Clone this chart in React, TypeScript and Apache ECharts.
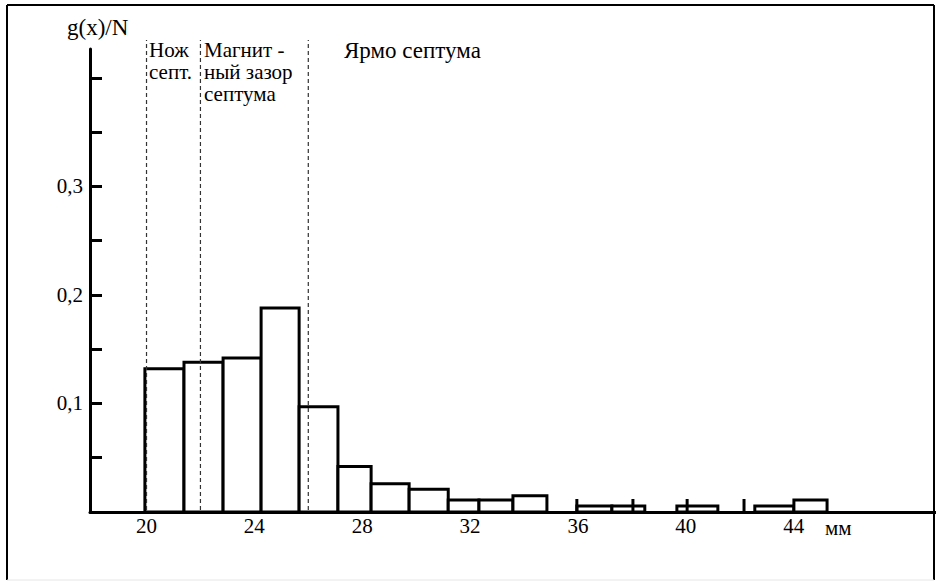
import React, { useEffect, useRef } from "react";
import * as echarts from "echarts";

// Histogram bins (mm) and relative frequencies g(x)/N
const binStart = [19.94, 21.39, 22.84, 24.25, 25.66, 27.1, 28.33, 29.74, 31.19, 32.33, 33.59, 35.96, 37.26, 39.67, 42.56, 44.01];
const binEnd = [21.39, 22.84, 24.25, 25.66, 27.1, 28.33, 29.74, 31.19, 32.33, 33.59, 34.85, 37.26, 38.48, 41.19, 44.01, 45.24];
const binValue = [0.132, 0.138, 0.142, 0.188, 0.097, 0.042, 0.026, 0.021, 0.011, 0.011, 0.015, 0.0055, 0.0055, 0.0055, 0.0055, 0.011];

// Zone boundaries (dashed lines), mm
const zoneBounds = [20, 22, 26];
const zoneTop = 0.435;

// Small vertical marks on the baseline, mm
const baseMarks = [35.96, 38.04, 40.05, 42.16];
const baseMarkHeight = 0.012;

// Axis ticks/labels
const xLabelValues = [20, 24, 28, 32, 36, 40, 44];
const yTickValues = [0.05, 0.1, 0.15, 0.2, 0.25, 0.3, 0.35, 0.4];
const yLabelValues = [0.1, 0.2, 0.3];

const FONT = "'Liberation Serif', 'DejaVu Serif', serif";

export default function App() {
  const ref = useRef<HTMLDivElement>(null);

  useEffect(() => {
    if (!ref.current) return;
    const chart = echarts.init(ref.current, undefined, { renderer: "svg" });

    const barData = binStart.map((s, i) => [s, binEnd[i], binValue[i]]);
    const zoneData = zoneBounds.map((x) => [x, zoneTop]);
    const markData = baseMarks.map((x) => [x, baseMarkHeight]);

    const label = (text: string, x: number, y: number, size = 21) => ({
      type: "text",
      x,
      y,
      style: {
        text,
        fill: "#000",
        fontFamily: FONT,
        fontSize: size,
        lineHeight: 22,
        align: "left",
        verticalAlign: "top",
      },
      silent: true,
    });

    chart.setOption({
      animation: false,
      backgroundColor: "#fff",
      grid: { left: 90, right: 0, top: 49, bottom: 69 },
      xAxis: {
        type: "value",
        min: 17.904,
        max: 49.28,
        axisLine: { show: true, lineStyle: { color: "#000", width: 3 } },
        axisTick: { show: false },
        splitLine: { show: false },
        axisLabel: {
          customValues: xLabelValues,
          color: "#000",
          fontFamily: FONT,
          fontSize: 21,
          margin: 3,
        },
      },
      yAxis: {
        type: "value",
        min: 0,
        max: 0.4267,
        interval: 0.05,
        axisLine: { show: true, lineStyle: { color: "#000", width: 3 } },
        axisTick: {
          show: true,
          inside: true,
          length: 12,
          customValues: yTickValues,
          lineStyle: { color: "#000", width: 3 },
        },
        splitLine: { show: false },
        axisLabel: {
          customValues: yLabelValues,
          color: "#000",
          fontFamily: FONT,
          fontSize: 21,
          margin: 7,
          formatter: (v: number) => v.toFixed(1).replace(".", ","),
        },
      },
      series: [
        {
          type: "custom",
          name: "bins",
          data: barData,
          encode: { x: [0, 1], y: 2 },
          z: 2,
          renderItem: (_p: any, api: any) => {
            const p0 = api.coord([api.value(0), 0]);
            const p1 = api.coord([api.value(1), api.value(2)]);
            return {
              type: "rect",
              shape: { x: p0[0], y: p1[1], width: p1[0] - p0[0], height: p0[1] - p1[1] },
              style: { fill: "#fff", stroke: "#000", lineWidth: 3 },
            };
          },
        },
        {
          type: "custom",
          name: "marks",
          data: markData,
          encode: { x: 0, y: 1 },
          z: 3,
          renderItem: (_p: any, api: any) => {
            const a = api.coord([api.value(0), 0]);
            const b = api.coord([api.value(0), api.value(1)]);
            return {
              type: "line",
              shape: { x1: a[0], y1: a[1], x2: b[0], y2: b[1] },
              style: { stroke: "#000", lineWidth: 3 },
            };
          },
        },
        {
          type: "custom",
          name: "zones",
          data: zoneData,
          encode: { x: 0, y: 1 },
          clip: false,
          z: 4,
          renderItem: (_p: any, api: any) => {
            const a = api.coord([api.value(0), 0]);
            const b = api.coord([api.value(0), api.value(1)]);
            return {
              type: "line",
              shape: { x1: a[0], y1: a[1] - 2, x2: b[0], y2: b[1] },
              style: { stroke: "#333", lineWidth: 1.2, lineDash: [4, 3] },
            };
          },
        },
      ],
      graphic: [
        { type: "line", shape: { x1: 7, y1: 5, x2: 934, y2: 5 }, style: { stroke: "#000", lineWidth: 2 }, silent: true },
        { type: "line", shape: { x1: 7, y1: 5, x2: 7, y2: 580 }, style: { stroke: "#000", lineWidth: 2 }, silent: true },
        { type: "line", shape: { x1: 934, y1: 5, x2: 934, y2: 580 }, style: { stroke: "#000", lineWidth: 2 }, silent: true },
        { type: "line", shape: { x1: 7, y1: 580, x2: 934, y2: 580 }, style: { stroke: "#e6e6e6", lineWidth: 1 }, silent: true },
        label("g(x)/N", 67, 16, 23),
        label("Нож\nсепт.", 149, 39),
        label("Магнит -\nный зазор\nсептума", 204, 39),
        label("Ярмо септума", 344, 39, 23),
        label("мм", 825, 517),
      ],
    });

    return () => chart.dispose();
  }, []);

  return (
    <div
      ref={ref}
      style={{ position: "absolute", left: 0, top: 0, width: 936, height: 581 }}
    />
  );
}
